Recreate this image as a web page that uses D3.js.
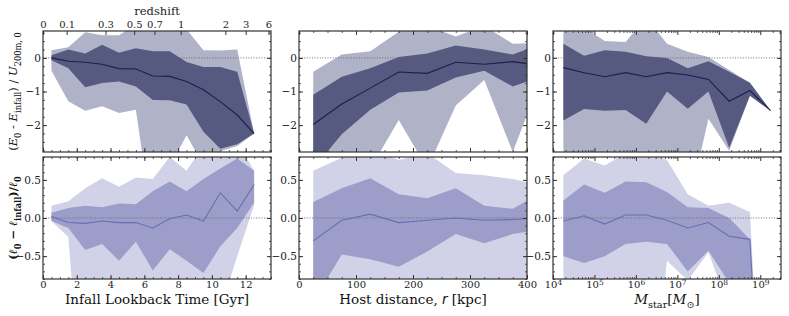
<!DOCTYPE html>
<html lang="en">
<head>
  <meta charset="UTF-8">
  <title></title>
  <script src="https://d3js.org/d3.v7.min.js"></script>
  <style>
    body { margin: 0; background: #fff; }
    text { font-family: "DejaVu Serif", serif; }
  </style>
</head>
<body>
  <svg width="789" height="316"></svg>
  <script>
    // ---- data ----
    const lookback = [0.5, 1.5, 2.5, 3.5, 4.5, 5.5, 6.5, 7.5, 8.5, 9.5, 10.5, 11.5, 12.5];
    const hostDist = [25, 75, 125, 175, 225, 275, 325, 375, 425];
    const logMstar = [4.25, 4.75, 5.25, 5.75, 6.25, 6.75, 7.25, 7.75, 8.25, 8.75, 9.25];

    const redshiftLabels = ["0", "0.1", "0.3", "0.5", "0.7", "1", "2", "3", "6"];
    const redshiftLookback = [0, 1.4, 3.7, 5.4, 6.6, 8.15, 10.8, 12.0, 13.35];

    // energy change vs infall time
    const eTimeMed  = [0, -0.10, -0.13, -0.19, -0.32, -0.33, -0.54, -0.55, -0.70, -0.95, -1.30, -1.70, -2.25];
    const eTimeHi1  = [0.08, 0.25, 0.13, 0.39, 0.15, 0.29, 0.20, 0.20, -0.12, -0.27, -0.27, -0.41, -2.25];
    const eTimeLo1  = [-0.07, -0.31, -0.87, -0.75, -0.70, -0.85, -1.25, -1.26, -1.39, -2.20, -2.70, -2.57, -2.25];
    const eTimeHi2  = [0.23, 0.32, 0.76, 0.67, 0.67, 1.0, 1.0, 1.0, 0.85, 0.23, 0.22, 0.25, -2.25];
    const eTimeLo2  = [-0.38, -1.29, -1.57, -1.44, -1.64, -1.54, -5.0, -3.24, -2.30, -3.2, -2.78, -2.62, -2.25];

    // angular momentum change vs infall time
    const lTimeMed  = [0.02, -0.06, -0.07, -0.04, -0.06, -0.06, -0.13, -0.01, 0.04, -0.04, 0.33, 0.09, 0.44];
    const lTimeHi1  = [0.07, 0.13, 0.16, 0.14, 0.19, 0.18, 0.35, 0.48, 0.35, 0.51, 0.65, 0.78, 0.62];
    const lTimeLo1  = [-0.04, -0.13, -0.42, -0.34, -0.56, -0.31, -0.69, -0.41, -0.56, -0.72, -0.37, -0.13, 0.20];
    const lTimeHi2  = [0.16, 0.22, 0.39, 0.52, 0.41, 0.53, 0.51, 0.80, 0.62, 0.95, 1.0, 1.0, 0.62];
    const lTimeLo2  = [-0.04, -0.25, -3.0, -1.5, -1.5, -1.5, -1.5, -1.5, -1.5, -1.5, -1.2, -0.5, 0.17];

    // energy change vs host distance
    const eDistMed  = [-1.98, -1.37, -0.90, -0.42, -0.46, -0.13, -0.19, -0.11, -0.23];
    const eDistHi1  = [-1.10, -0.56, -0.31, 0.03, 0.13, 0.37, 0.25, 0.10, 0.42];
    const eDistLo1  = [-3.3, -2.27, -1.54, -1.03, -0.97, -0.58, -0.38, -0.85, -0.55];
    const eDistHi2  = [-0.41, 0.10, 0.20, 0.78, 0.95, 0.64, 0.95, 0.42, 0.45];
    const eDistLo2  = [-3.5, -3.3, -3.3, -1.85, -3.3, -1.42, -0.66, -2.8, -0.6];

    // angular momentum change vs host distance
    const lDistMed  = [-0.30, -0.03, 0.05, -0.06, -0.03, 0.0, -0.03, -0.02, 0.0];
    const lDistHi1  = [0.21, 0.39, 0.52, 0.31, 0.26, 0.39, 0.16, 0.12, 0.33];
    const lDistLo1  = [-1.1, -0.48, -0.54, -0.64, -0.44, -0.21, -0.33, -0.21, -0.15];
    const lDistHi2  = [0.62, 0.79, 0.9, 0.76, 0.85, 0.59, 0.56, 0.51, 0.43];
    const lDistLo2  = [-1.5, -1.5, -1.5, -1.5, -1.5, -1.5, -1.5, -1.5, -1.5];

    // energy change vs stellar mass
    const eMassMed  = [-0.29, -0.44, -0.56, -0.44, -0.56, -0.44, -0.51, -0.64, -1.29, -0.97, -1.57];
    const eMassHi1  = [0.42, 0.06, 0.23, 0.18, 0.05, 0.00, -0.31, -0.10, -0.41, -0.74, -1.57];
    const eMassLo1  = [-1.86, -1.52, -1.57, -1.55, -1.96, -1.00, -1.51, -1.00, -2.67, -1.13, -1.57];
    const eMassHi2  = [1.2, 0.9, 0.50, 0.47, 1.2, 0.42, 0.18, 0.03, -0.36, -0.74, -1.57];
    const eMassLo2  = [-4.0, -4.0, -4.0, -4.0, -4.0, -4.0, -4.5, -1.81, -2.76, -1.13, -1.57];

    // angular momentum change vs stellar mass
    const lMassMed  = [-0.04, 0.03, -0.08, 0.04, 0.04, -0.03, -0.13, -0.06, -0.24, -0.28, -5];
    const lMassHi1  = [0.23, 0.44, 0.33, 0.48, 0.47, 0.34, 0.14, 0.13, 0.00, -0.28, -5];
    const lMassLo1  = [-0.50, -0.59, -0.50, -0.34, -0.31, -0.34, -0.70, -0.43, -0.85, -2.0, -5];
    const lMassHi2  = [0.56, 0.78, 0.69, 0.85, 0.85, 0.76, 0.31, 0.16, 0.20, 0.08, -5];
    const lMassLo2  = [-3, -3, -3, -3, -3, -0.56, -0.82, -0.45, -1.2, -2.5, -5];

    // ---- layout ----
    const svg = d3.select("svg");
    const colX = [43, 299, 553];
    const pw = 228;
    const rowY = [31, 157];
    const ph = [121, 122];

    const topCol = {light: "#b0b2c7", dark: "#565a80", line: "#1c1e4c"};
    const botCol = {light: "#d1d2e7", dark: "#9c9ec9", line: "#6a6db0"};

    const xTime = d3.scaleLinear().domain([0, 13.5]).range([0, pw]);
    const xDist = d3.scaleLinear().domain([0, 400]).range([0, pw]);
    const xMass = d3.scaleLog().domain([1e4, Math.pow(10, 9.5)]).range([0, pw]);
    const yE = d3.scaleLinear().domain([-2.8, 0.8]).range([ph[0], 0]);
    const yL = d3.scaleLinear().domain([-0.8, 0.8]).range([ph[1], 0]);

    let clipId = 0;
    function panel(col, row, x, y, xs, med, lo1, hi1, lo2, hi2, c) {
      const g = svg.append("g").attr("transform", `translate(${colX[col]},${rowY[row]})`);
      const h = ph[row];
      const id = "clip" + (clipId++);
      g.append("clipPath").attr("id", id).append("rect").attr("width", pw).attr("height", h);
      const plot = g.append("g").attr("clip-path", `url(#${id})`);
      const pts = xs.map((v, i) => ({x: v, med: med[i], lo1: lo1[i], hi1: hi1[i], lo2: lo2[i], hi2: hi2[i]}));

      plot.append("path").datum(pts).attr("fill", c.light)
        .attr("d", d3.area().x(d => x(d.x)).y0(d => y(d.lo2)).y1(d => y(d.hi2)));
      plot.append("path").datum(pts).attr("fill", c.dark)
        .attr("d", d3.area().x(d => x(d.x)).y0(d => y(d.lo1)).y1(d => y(d.hi1)));
      plot.append("line").attr("x1", 0).attr("x2", pw).attr("y1", y(0)).attr("y2", y(0))
        .attr("stroke", "#666").attr("stroke-width", 0.9).attr("stroke-dasharray", "1,1.6");
      plot.append("path").datum(pts).attr("fill", "none").attr("stroke", c.line).attr("stroke-width", 1.1)
        .attr("d", d3.line().x(d => x(d.x)).y(d => y(d.med)));
      return g;
    }

    function ticks(g, axis, tr, major, minor, fmt, size) {
      const a = g.append("g").attr("transform", tr);
      a.call(axis.tickValues(major).tickSizeInner(-4).tickSizeOuter(0).tickPadding(2).tickFormat(fmt));
      a.select(".domain").remove();
      a.selectAll("line").attr("stroke", "#333");
      a.selectAll("text").attr("font-size", size || 10).attr("font-family", "DejaVu Serif").attr("fill", "#222");
      if (minor) {
        const m = g.append("g").attr("transform", tr);
        m.call(axis.tickValues(minor).tickSizeInner(-2).tickFormat(""));
        m.select(".domain").remove();
        m.selectAll("line").attr("stroke", "#333").attr("stroke-width", 0.8);
      }
      return a;
    }

    function frame(g, row) {
      g.append("rect").attr("width", pw).attr("height", ph[row])
        .attr("fill", "none").attr("stroke", "#333").attr("stroke-width", 1.2);
    }

    const none = () => "";
    const fmtE = d3.format("d");
    const fmtL = d3.format(".1f");
    const timeMajor = [0, 2, 4, 6, 8, 10, 12];
    const timeMinor = d3.range(0, 13.6, 0.5);
    const distMajor = [0, 100, 200, 300, 400];
    const distMinor = d3.range(0, 401, 25);
    const massMajor = [1e4, 1e5, 1e6, 1e7, 1e8, 1e9];
    const massMinor = [];
    for (let e = 4; e < 10; e++) for (let k = 2; k <= 9; k++) if (k * Math.pow(10, e) < Math.pow(10, 9.5)) massMinor.push(k * Math.pow(10, e));
    const eMajor = [-2, -1, 0];
    const eMinor = d3.range(-2.75, 0.8, 0.25);
    const lMajor = [-0.5, 0, 0.5];
    const lMinor = d3.range(-0.8, 0.81, 0.1);

    const panels = [
      {col: 0, x: xTime, xs: lookback, xMaj: timeMajor, xMin: timeMinor,
       e: [eTimeMed, eTimeLo1, eTimeHi1, eTimeLo2, eTimeHi2], l: [lTimeMed, lTimeLo1, lTimeHi1, lTimeLo2, lTimeHi2]},
      {col: 1, x: xDist, xs: hostDist, xMaj: distMajor, xMin: distMinor,
       e: [eDistMed, eDistLo1, eDistHi1, eDistLo2, eDistHi2], l: [lDistMed, lDistLo1, lDistHi1, lDistLo2, lDistHi2]},
      {col: 2, x: xMass, xs: logMstar.map(v => Math.pow(10, v)), xMaj: massMajor, xMin: massMinor,
       e: [eMassMed, eMassLo1, eMassHi1, eMassLo2, eMassHi2], l: [lMassMed, lMassLo1, lMassHi1, lMassLo2, lMassHi2]}
    ];

    panels.forEach(p => {
      // top row: energy
      const gt = panel(p.col, 0, p.x, yE, p.xs, ...p.e, topCol);
      ticks(gt, d3.axisLeft(yE), "translate(0,0)", eMajor, eMinor, fmtE, 10.5);
      ticks(gt, d3.axisRight(yE), `translate(${pw},0)`, eMajor, eMinor, none);
      ticks(gt, d3.axisBottom(p.x), `translate(0,${ph[0]})`, p.xMaj, p.xMin, none);
      if (p.col === 0) {
        const za = gt.append("g");
        za.call(d3.axisTop(xTime).tickValues(redshiftLookback).tickSizeInner(-4).tickSizeOuter(0).tickPadding(3)
          .tickFormat((d, i) => redshiftLabels[i]));
        za.select(".domain").remove();
        za.selectAll("line").attr("stroke", "#333");
        za.selectAll("text").attr("font-size", 10).attr("font-family", "DejaVu Serif").attr("fill", "#222");
        gt.append("text").attr("x", pw / 2).attr("y", -16).attr("text-anchor", "middle")
          .attr("font-size", 11.5).attr("fill", "#222").text("redshift");
      } else {
        ticks(gt, d3.axisTop(p.x), "translate(0,0)", p.xMaj, p.xMin, none);
      }
      frame(gt, 0);

      // bottom row: angular momentum
      const gb = panel(p.col, 1, p.x, yL, p.xs, ...p.l, botCol);
      ticks(gb, d3.axisLeft(yL), "translate(0,0)", lMajor, lMinor, fmtL, 10.5);
      ticks(gb, d3.axisRight(yL), `translate(${pw},0)`, lMajor, lMinor, none);
      ticks(gb, d3.axisTop(p.x), "translate(0,0)", p.xMaj, p.xMin, none);
      const bx = ticks(gb, d3.axisBottom(p.x), `translate(0,${ph[1]})`, p.xMaj, p.xMin,
        p.col === 2 ? (() => "10") : d3.format("d"), 10);
      if (p.col === 2) {
        bx.selectAll("text").append("tspan").attr("dy", "-0.45em").attr("font-size", 7.5)
          .text(d => Math.round(Math.log10(d)));
      }
      frame(gb, 1);
    });

    // ---- axis titles ----
    function rich(sel, parts) {
      let shift = 0;
      parts.forEach(pt => {
        const t = sel.append("tspan").text(pt.t);
        if (pt.italic) t.attr("font-style", "italic");
        const target = pt.sub ? 3.5 : 0;
        if (target !== shift) { t.attr("dy", target - shift); shift = target; }
        if (pt.sub) t.attr("font-size", "0.72em");
        if (pt.family) t.attr("font-family", pt.family);
      });
    }

    const xLabY = 304;
    svg.append("text").attr("x", colX[0] + pw / 2).attr("y", xLabY).attr("text-anchor", "middle")
      .attr("font-size", 13.5).attr("fill", "#111").text("Infall Lookback Time [Gyr]");

    rich(svg.append("text").attr("x", colX[1] + pw / 2).attr("y", xLabY).attr("text-anchor", "middle")
      .attr("font-size", 13.5).attr("fill", "#111"),
      [{t: "Host distance, "}, {t: "r", italic: true, family: "DejaVu Sans"}, {t: " [kpc]"}]);

    rich(svg.append("text").attr("x", colX[2] + pw / 2).attr("y", xLabY).attr("text-anchor", "middle")
      .attr("font-size", 13.5).attr("fill", "#111").attr("font-family", "DejaVu Sans"),
      [{t: "M", italic: true}, {t: "star", sub: true}, {t: "["}, {t: "M", italic: true}, {t: "⊙", sub: true}, {t: "]"}]);

    rich(svg.append("text").attr("transform", `translate(17,${rowY[0] + ph[0] / 2}) rotate(-90)`)
      .attr("text-anchor", "middle").attr("font-size", 11.5).attr("fill", "#111").attr("font-family", "DejaVu Sans"),
      [{t: "("}, {t: "E", italic: true}, {t: "0", sub: true}, {t: " - "}, {t: "E", italic: true}, {t: "infall", sub: true},
       {t: ") / "}, {t: "U", italic: true}, {t: "200m, 0", sub: true}]);

    rich(svg.append("text").attr("transform", `translate(17,${rowY[1] + ph[1] / 2}) rotate(-90)`)
      .attr("text-anchor", "middle").attr("font-size", 11.5).attr("font-weight", "bold").attr("fill", "#111")
      .attr("font-family", "DejaVu Sans"),
      [{t: "("}, {t: "ℓ", italic: true}, {t: "0", sub: true}, {t: " − "}, {t: "ℓ", italic: true}, {t: "infall", sub: true},
       {t: ")/"}, {t: "ℓ", italic: true}, {t: "0", sub: true}]);
  </script>
</body>
</html>
